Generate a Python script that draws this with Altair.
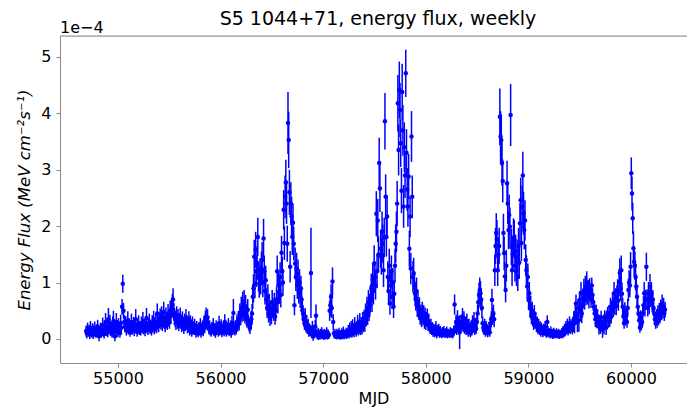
import altair as alt
import pandas as pd

# Weekly energy-flux light curve of S5 1044+71 (units of 1e-4 MeV cm^-2 s^-1)
# Each segment holds 52 weekly bins; segment k starts at MJD 54690 + 364*k
start_mjd = 54690
week_days = 7
segment_days = 364

flux_s00 = [0.14,0.10,0.18,0.12,0.15,0.09,0.20,0.13,0.11,0.17,0.08,0.15,0.19,0.12,0.10,0.16,0.22,0.14,0.05,0.12,0.18,0.10,0.15,0.25,0.13,0.09,0.20,0.30,0.15,0.22,0.12,0.35,0.18,0.28,0.14,0.20,0.10,0.26,0.32,0.17,0.05,0.22,0.30,0.15,0.12,0.24,0.18,0.10,0.28,0.20,0.57,0.98]
flux_s01 = [0.50,0.30,0.22,0.28,0.15,0.20,0.33,0.18,0.25,0.12,0.22,0.30,0.16,0.20,0.26,0.14,0.24,0.35,0.19,0.13,0.22,0.28,0.17,0.21,0.15,0.27,0.20,0.32,0.18,0.24,0.14,0.22,0.37,0.20,0.16,0.25,0.30,0.19,0.23,0.15,0.28,0.22,0.34,0.18,0.26,0.30,0.21,0.45,0.28,0.24,0.33,0.38]
flux_s02 = [0.30,0.42,0.25,0.35,0.48,0.30,0.22,0.40,0.33,0.28,0.45,0.36,0.30,0.50,0.42,0.55,0.60,0.70,0.48,0.40,0.35,0.28,0.42,0.30,0.38,0.25,0.33,0.40,0.30,0.22,0.35,0.28,0.18,0.32,0.25,0.38,0.30,0.20,0.27,0.35,0.15,0.30,0.24,0.12,0.28,0.20,0.16,0.25,0.18,0.10,0.22,0.15]
flux_s03 = [0.12,0.20,0.15,0.25,0.10,0.18,0.22,0.14,0.28,0.20,0.35,0.40,0.30,0.38,0.25,0.18,0.22,0.15,0.12,0.20,0.17,0.25,0.13,0.18,0.10,0.22,0.16,0.20,0.12,0.28,0.15,0.19,0.24,0.11,0.17,0.21,0.14,0.30,0.18,0.12,0.20,0.16,0.25,0.13,0.18,0.22,0.10,0.28,0.17,0.46,0.20,0.15]
flux_s04 = [0.22,0.18,0.30,0.25,0.35,0.28,0.45,0.40,0.55,0.48,0.62,0.50,0.65,0.45,0.58,0.40,0.35,0.52,0.30,0.25,0.20,0.28,0.35,0.45,0.75,0.90,1.46,0.98,1.58,1.20,1.35,1.81,1.10,0.98,1.15,1.05,1.25,1.40,1.00,1.78,1.20,0.85,1.04,0.70,0.55,0.75,0.45,0.60,0.38,0.50,0.42,0.65]
flux_s05 = [0.55,0.48,0.62,0.40,0.50,0.70,1.20,0.65,0.95,0.85,1.10,0.78,1.53,1.20,1.00,2.29,1.70,2.52,2.78,2.40,1.69,3.83,3.53,2.60,1.28,2.40,2.17,1.81,2.06,1.69,0.60,1.34,1.10,1.25,0.95,1.15,0.85,1.00,0.75,0.90,0.70,0.51,0.45,0.35,0.28,0.40,0.22,0.30,0.18,0.25,0.12,0.15]
flux_s06 = [0.15,1.17,0.10,0.20,0.05,0.12,0.08,0.22,0.41,0.10,0.06,0.12,0.04,0.08,0.10,0.05,0.12,0.07,0.09,0.04,0.10,0.06,0.08,0.12,0.05,0.09,0.07,0.50,0.60,0.75,0.55,1.02,0.30,0.10,0.08,0.06,0.10,0.05,0.09,0.07,0.11,0.06,0.08,0.05,0.10,0.07,0.12,0.06,0.09,0.08,0.11,0.07]
flux_s07 = [0.10,0.15,0.08,0.18,0.12,0.20,0.10,0.22,0.15,0.12,0.25,0.18,0.14,0.20,0.28,0.16,0.22,0.30,0.18,0.25,0.20,0.32,0.26,0.35,0.28,0.45,0.38,0.55,0.42,0.65,0.50,0.60,0.75,0.90,0.70,1.05,0.85,1.34,1.10,0.95,2.22,1.20,2.10,1.50,3.12,2.67,1.60,1.46,1.90,1.69,1.22,1.80]
flux_s08 = [3.86,2.52,1.81,2.17,1.10,0.85,1.30,0.63,0.95,1.20,0.75,1.00,0.57,0.80,1.30,1.69,1.90,2.40,4.18,3.35,4.42,4.06,3.47,2.63,4.38,3.70,2.35,3.40,2.90,4.71,3.30,2.65,2.35,2.88,1.60,2.17,1.25,3.59,2.52,1.10,1.16,0.95,0.80,0.70,0.85,0.57,0.65,0.50,0.56,0.40,0.45,0.35]
flux_s09 = [0.50,0.38,0.45,0.30,0.42,0.28,0.35,0.40,0.25,0.32,0.22,0.18,0.25,0.15,0.20,0.12,0.18,0.10,0.15,0.22,0.08,0.14,0.12,0.18,0.09,0.15,0.11,0.07,0.13,0.10,0.15,0.08,0.12,0.09,0.14,0.07,0.11,0.10,0.08,0.13,0.09,0.12,0.07,0.10,0.15,0.61,0.20,0.30,0.16,0.37,0.25,0.18]
flux_s10 = [0.12,0.20,0.30,0.25,0.40,0.22,0.35,0.18,0.28,0.15,0.32,0.20,0.12,0.25,0.18,0.10,0.22,0.14,0.30,0.20,0.34,0.15,0.25,0.18,0.30,0.45,0.65,0.78,0.87,0.81,0.70,0.55,0.28,0.20,0.15,0.25,0.12,0.22,0.18,0.10,0.15,0.20,0.12,0.28,0.35,0.69,0.40,0.45,0.35,1.22,1.65,1.88]
flux_s11 = [1.77,1.22,1.50,1.65,3.94,3.59,3.53,3.12,2.80,1.88,1.52,1.11,0.87,1.30,2.76,2.40,1.93,2.20,1.99,3.97,1.63,1.22,1.50,1.80,1.77,1.30,1.55,1.20,1.46,1.10,1.65,1.35,2.05,2.46,1.70,2.34,2.90,2.23,1.93,2.10,1.40,1.22,0.93,1.10,0.69,0.81,0.55,0.60,0.40,0.50,0.35,0.28]
flux_s12 = [0.45,0.30,0.35,0.22,0.28,0.18,0.25,0.15,0.22,0.12,0.20,0.16,0.10,0.18,0.14,0.22,0.12,0.08,0.30,0.15,0.10,0.12,0.07,0.14,0.09,0.11,0.05,0.13,0.08,0.10,0.06,0.12,0.09,0.07,0.11,0.05,0.10,0.08,0.12,0.06,0.15,0.09,0.18,0.12,0.22,0.16,0.25,0.14,0.20,0.28,0.18,0.24]
flux_s13 = [0.22,0.16,0.28,0.35,0.28,0.46,0.63,0.40,0.30,0.55,0.33,0.69,0.50,0.81,0.45,0.60,0.72,0.85,0.70,0.92,0.78,0.99,0.80,0.88,0.75,0.90,0.82,0.70,0.95,0.78,0.65,0.57,0.45,0.35,0.50,0.28,0.40,0.30,0.22,0.32,0.18,0.38,0.25,0.16,0.30,0.22,0.40,0.28,0.20,0.35,0.45,0.33]
flux_s14 = [0.45,0.33,0.57,0.40,0.51,0.65,0.55,0.81,0.60,0.72,0.58,0.75,0.85,0.68,1.00,1.17,0.90,1.22,0.80,0.57,0.40,0.28,0.50,0.35,0.45,0.30,0.55,0.87,1.00,0.95,1.28,2.94,2.58,2.14,1.61,1.37,1.30,1.10,0.93,0.75,0.57,0.45,0.33,0.20,0.38,0.25,0.30,0.45,0.60,0.81,0.55,0.70]
flux_s15 = [1.28,0.70,0.55,0.81,0.60,0.93,0.75,0.81,0.63,0.70,0.55,0.45,0.35,0.28,0.40,0.30,0.46,0.35,0.50,0.40,0.55,0.46,0.63,0.50,0.58,0.45,0.52]

# 1-sigma errors, in units of 1e-6 MeV cm^-2 s^-1 (hundredths of the plotted unit)
err_s00 = [10,9,11,8,10,9,12,10,9,11,8,10,12,9,8,10,12,10,9,9,11,8,10,13,9,8,11,16,10,12,9,20,10,15,9,11,8,14,18,10,9,12,16,10,9,13,11,8,15,11,14,16]
err_s01 = [14,12,10,13,9,10,16,10,12,8,11,15,9,10,13,9,12,18,10,9,11,14,10,11,9,13,10,16,10,12,9,11,18,10,9,12,15,10,11,9,14,11,16,10,13,15,11,18,13,12,14,16]
err_s02 = [13,16,11,14,18,12,10,16,13,12,17,14,12,18,16,18,20,20,16,15,14,12,16,12,15,11,13,16,12,10,14,12,9,13,11,15,12,10,11,14,9,12,11,8,12,10,9,11,10,8,10,9]
err_s03 = [9,10,9,12,8,10,11,9,13,10,15,16,13,15,11,10,11,9,8,10,9,12,8,10,8,11,9,10,8,13,9,10,11,8,9,10,9,14,10,8,10,9,12,8,10,11,8,13,10,25,11,9]
err_s04 = [11,10,14,12,15,13,18,16,20,18,22,18,22,17,20,16,15,19,13,12,11,13,15,17,22,25,30,26,32,28,30,34,26,25,28,26,30,32,26,35,28,24,26,20,18,22,16,20,15,18,16,22]
err_s05 = [18,16,20,15,18,22,28,20,25,22,26,22,30,26,24,35,30,38,40,36,32,55,50,40,28,38,35,32,34,30,18,28,25,28,24,26,22,24,20,22,20,16,15,13,12,15,10,12,9,11,8,9]
err_s06 = [10,80,9,12,8,9,7,12,20,8,7,8,6,7,8,6,9,7,8,6,8,7,8,9,6,8,7,18,20,22,18,25,14,8,7,6,8,6,8,7,9,7,8,6,9,7,10,7,8,7,9,7]
err_s07 = [8,10,7,11,9,12,8,13,10,9,14,11,10,12,15,10,13,16,11,14,12,16,14,17,15,18,16,20,17,22,18,20,22,26,22,28,24,32,28,25,40,30,38,32,45,42,34,32,36,34,30,35]
err_s08 = [50,40,35,38,28,25,30,20,25,28,22,26,20,24,30,34,36,40,50,45,50,48,42,40,50,45,38,44,40,42,42,38,36,40,32,36,28,45,38,28,28,25,22,20,24,18,20,16,18,15,16,14]
err_s09 = [16,14,15,12,14,12,13,14,11,13,10,9,11,8,10,8,9,7,8,10,7,8,7,9,7,8,7,6,8,7,8,6,7,7,8,6,7,7,6,8,7,7,6,7,9,18,10,13,9,14,11,10]
err_s10 = [30,10,13,11,15,10,14,9,12,8,13,10,8,11,9,7,10,8,12,9,14,8,11,9,12,16,20,22,22,22,20,18,12,10,8,11,8,10,9,7,8,10,8,12,14,20,15,16,14,28,32,35]
err_s11 = [34,28,30,32,50,45,45,40,38,34,30,25,22,28,40,36,34,36,34,55,32,28,30,34,34,28,30,26,30,25,32,28,36,40,32,38,42,38,34,36,28,26,22,24,18,20,16,17,14,16,13,12]
err_s12 = [15,12,13,10,12,9,11,8,10,8,9,8,7,9,8,10,7,6,12,8,7,7,6,8,6,7,5,7,6,7,5,7,6,6,7,5,6,6,7,5,8,6,9,7,10,8,11,8,9,12,9,11]
err_s13 = [10,8,12,14,18,14,16,13,18,15,20,16,18,20,17,22,18,22,18,20,18,21,19,17,21,18,16,15,14,12,15,12,10,14,11,9,13,10,14,11,9,12,9,14,10,14,11,8,13,15,12,13]
err_s14 = [15,12,16,13,15,18,16,20,17,18,16,20,21,18,24,26,22,26,20,16,13,10,15,11,14,10,16,20,22,21,26,28,30,28,30,26,25,24,21,18,16,14,12,9,13,10,11,14,16,20,15,17]
err_s15 = [25,18,15,20,16,22,18,20,16,17,15,14,11,10,13,10,14,11,14,12,15,13,16,14,15,13,14]

flux_segments = [flux_s00, flux_s01, flux_s02, flux_s03, flux_s04, flux_s05, flux_s06, flux_s07,
                 flux_s08, flux_s09, flux_s10, flux_s11, flux_s12, flux_s13, flux_s14, flux_s15]
err_segments = [err_s00, err_s01, err_s02, err_s03, err_s04, err_s05, err_s06, err_s07,
                err_s08, err_s09, err_s10, err_s11, err_s12, err_s13, err_s14, err_s15]

x_ticks = [55000, 56000, 57000, 58000, 59000, 60000]
y_ticks = [0, 1, 2, 3, 4, 5]

rows = []
for k, (fl, er) in enumerate(zip(flux_segments, err_segments)):
    for j, (f, e) in enumerate(zip(fl, er)):
        mjd = start_mjd + segment_days * k + week_days * j
        rows.append({"MJD": mjd, "flux": f, "lo": f - e / 100.0, "hi": f + e / 100.0})
df = pd.DataFrame(rows)

W, H = 627, 327
FONT = "DejaVu Sans"
BLUE = "#0000ff"
SPINE = "#8c8c8c"

xscale = alt.Scale(domain=[54435, 60546], nice=False, zero=False)
yscale = alt.Scale(domain=[-0.426, 5.372], nice=False, zero=False)

xaxis = alt.Axis(values=x_ticks, format="d", grid=False, title="MJD",
                 labelFont=FONT, labelFontSize=16, labelColor="#000000",
                 tickSize=4, tickColor=SPINE, domainColor=SPINE, labelPadding=3,
                 labelFlush=False, labelOverlap=False,
                 titleFont=FONT, titleFontSize=16, titleFontWeight="normal", titleColor="#000000",
                 titleY=40, titleBaseline="alphabetic")
yaxis = alt.Axis(values=y_ticks, format="d", grid=False,
                 title="Energy Flux (MeV cm⁻²s⁻¹)",
                 labelFont=FONT, labelFontSize=16, labelColor="#000000",
                 tickSize=4, tickColor=SPINE, domainColor=SPINE, labelPadding=5,
                 labelFlush=False, labelOverlap=False,
                 titleFont=FONT, titleFontSize=16.5, titleFontWeight="normal", titleFontStyle="italic",
                 titleColor="#000000", titleAngle=270, titleAlign="center", titleBaseline="middle",
                 titleX=-36, titleY=H / 2)

base = alt.Chart(df)

bars = base.mark_rule(color=BLUE, strokeWidth=1.5, clip=True).encode(
    x=alt.X("MJD:Q", scale=xscale, axis=xaxis),
    y=alt.Y("lo:Q", scale=yscale, axis=yaxis),
    y2="hi:Q",
)
points = base.mark_circle(color=BLUE, size=20, opacity=1, clip=True).encode(
    x=alt.X("MJD:Q", scale=xscale),
    y=alt.Y("flux:Q", scale=yscale),
)

top_spine = alt.Chart(pd.DataFrame({"a": [0]})).mark_rule(color=SPINE, strokeWidth=1).encode(
    x=alt.value(0), x2=alt.value(W), y=alt.value(0)
)
title_txt = alt.Chart(pd.DataFrame({"t": ["S5 1044+71, energy flux, weekly"]})).mark_text(
    font=FONT, fontSize=19, align="center", baseline="alphabetic", color="#000000"
).encode(x=alt.value(318), y=alt.value(-11), text="t:N")
exp_txt = alt.Chart(pd.DataFrame({"t": ["1e−4"]})).mark_text(
    font=FONT, fontSize=16, align="left", baseline="alphabetic", color="#000000"
).encode(x=alt.value(0), y=alt.value(-3), text="t:N")

chart = alt.layer(bars, points, top_spine, title_txt, exp_txt).properties(
    width=W, height=H,
    autosize=alt.AutoSizeParams(type="none"),
    padding={"left": 60, "top": 36, "right": 0, "bottom": 48},
).configure_view(stroke=None).configure(background="white")

chart.save("out.html", embed_options={"renderer": "svg", "actions": False})
